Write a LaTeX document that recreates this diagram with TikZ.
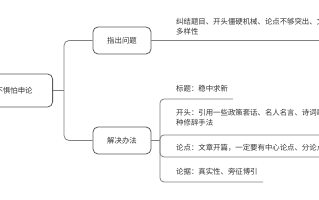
\documentclass[tikz,border=0pt]{standalone}
\usepackage{fontspec}
\setmainfont{Noto Sans CJK SC}
\definecolor{linegray}{HTML}{808080}
\definecolor{boxgray}{HTML}{5A5A5A}
\definecolor{txtgray}{HTML}{333333}
\begin{document}
\begin{tikzpicture}[x=1pt,y=-1pt,
  every node/.style={font=\fontsize{7.4}{10}\selectfont, text=txtgray},
  topicbox/.style={draw=boxgray, line width=0.8pt, rounded corners=5pt, fill=white, inner ysep=0pt},
  conn/.style={draw=linegray, line width=0.8pt},
  leaftxt/.style={anchor=north west, inner sep=0pt, align=left}]
\useasboundingbox (0,0) rectangle (319,200);
\clip (0,0) rectangle (319,200);
% root and main topics
\node[topicbox, anchor=east, inner xsep=20pt, minimum height=33pt] (root) at (53,90.5) {不惧怕申论};
\node[topicbox, minimum width=58pt, minimum height=27pt] (b1) at (122,40.5) {指出问题};
\node[topicbox, minimum width=58pt, minimum height=27pt] (b2) at (122,140.5) {解决办法};
\coordinate (trunk) at (64,90.5);
\draw[conn] (root.east) -- (trunk);
\draw[conn, rounded corners=5pt] (trunk) |- (b1.west);
\draw[conn, rounded corners=5pt] (trunk) |- (b2.west);
% leaf of b1
\coordinate (u0end) at (330,40.5);
\draw[conn] (b1.east) -- (u0end);
\node[leaftxt] (t0) at (176,18) {纠结题目、开头僵硬机械、论点不够突出、文章缺乏\\多样性};
% leaves of b2
\coordinate (j2) at (160,140.5);
\coordinate (u1end) at (233,99);
\coordinate (u2end) at (330,135);
\coordinate (u3end) at (330,157);
\coordinate (u4end) at (263,182);
\draw[conn] (b2.east) -- (j2);
\draw[conn, rounded corners=4pt] (j2) |- (u1end);
\draw[conn, rounded corners=4pt] (j2) |- (u2end);
\draw[conn, rounded corners=4pt] (j2) |- (u3end);
\draw[conn, rounded corners=4pt] (j2) |- (u4end);
\node[leaftxt] (t1) at (176,85.3) {标题：稳中求新};
\node[leaftxt] (t2) at (176,109.3) {开头：引用一些政策套话、名人名言、诗词歌赋等各\\种修辞手法};
\node[leaftxt] (t3) at (176,144.3) {论点：文章开篇，一定要有中心论点、分论点};
\node[leaftxt] (t4) at (176,168.3) {论据：真实性、旁征博引};
\end{tikzpicture}
\end{document}
